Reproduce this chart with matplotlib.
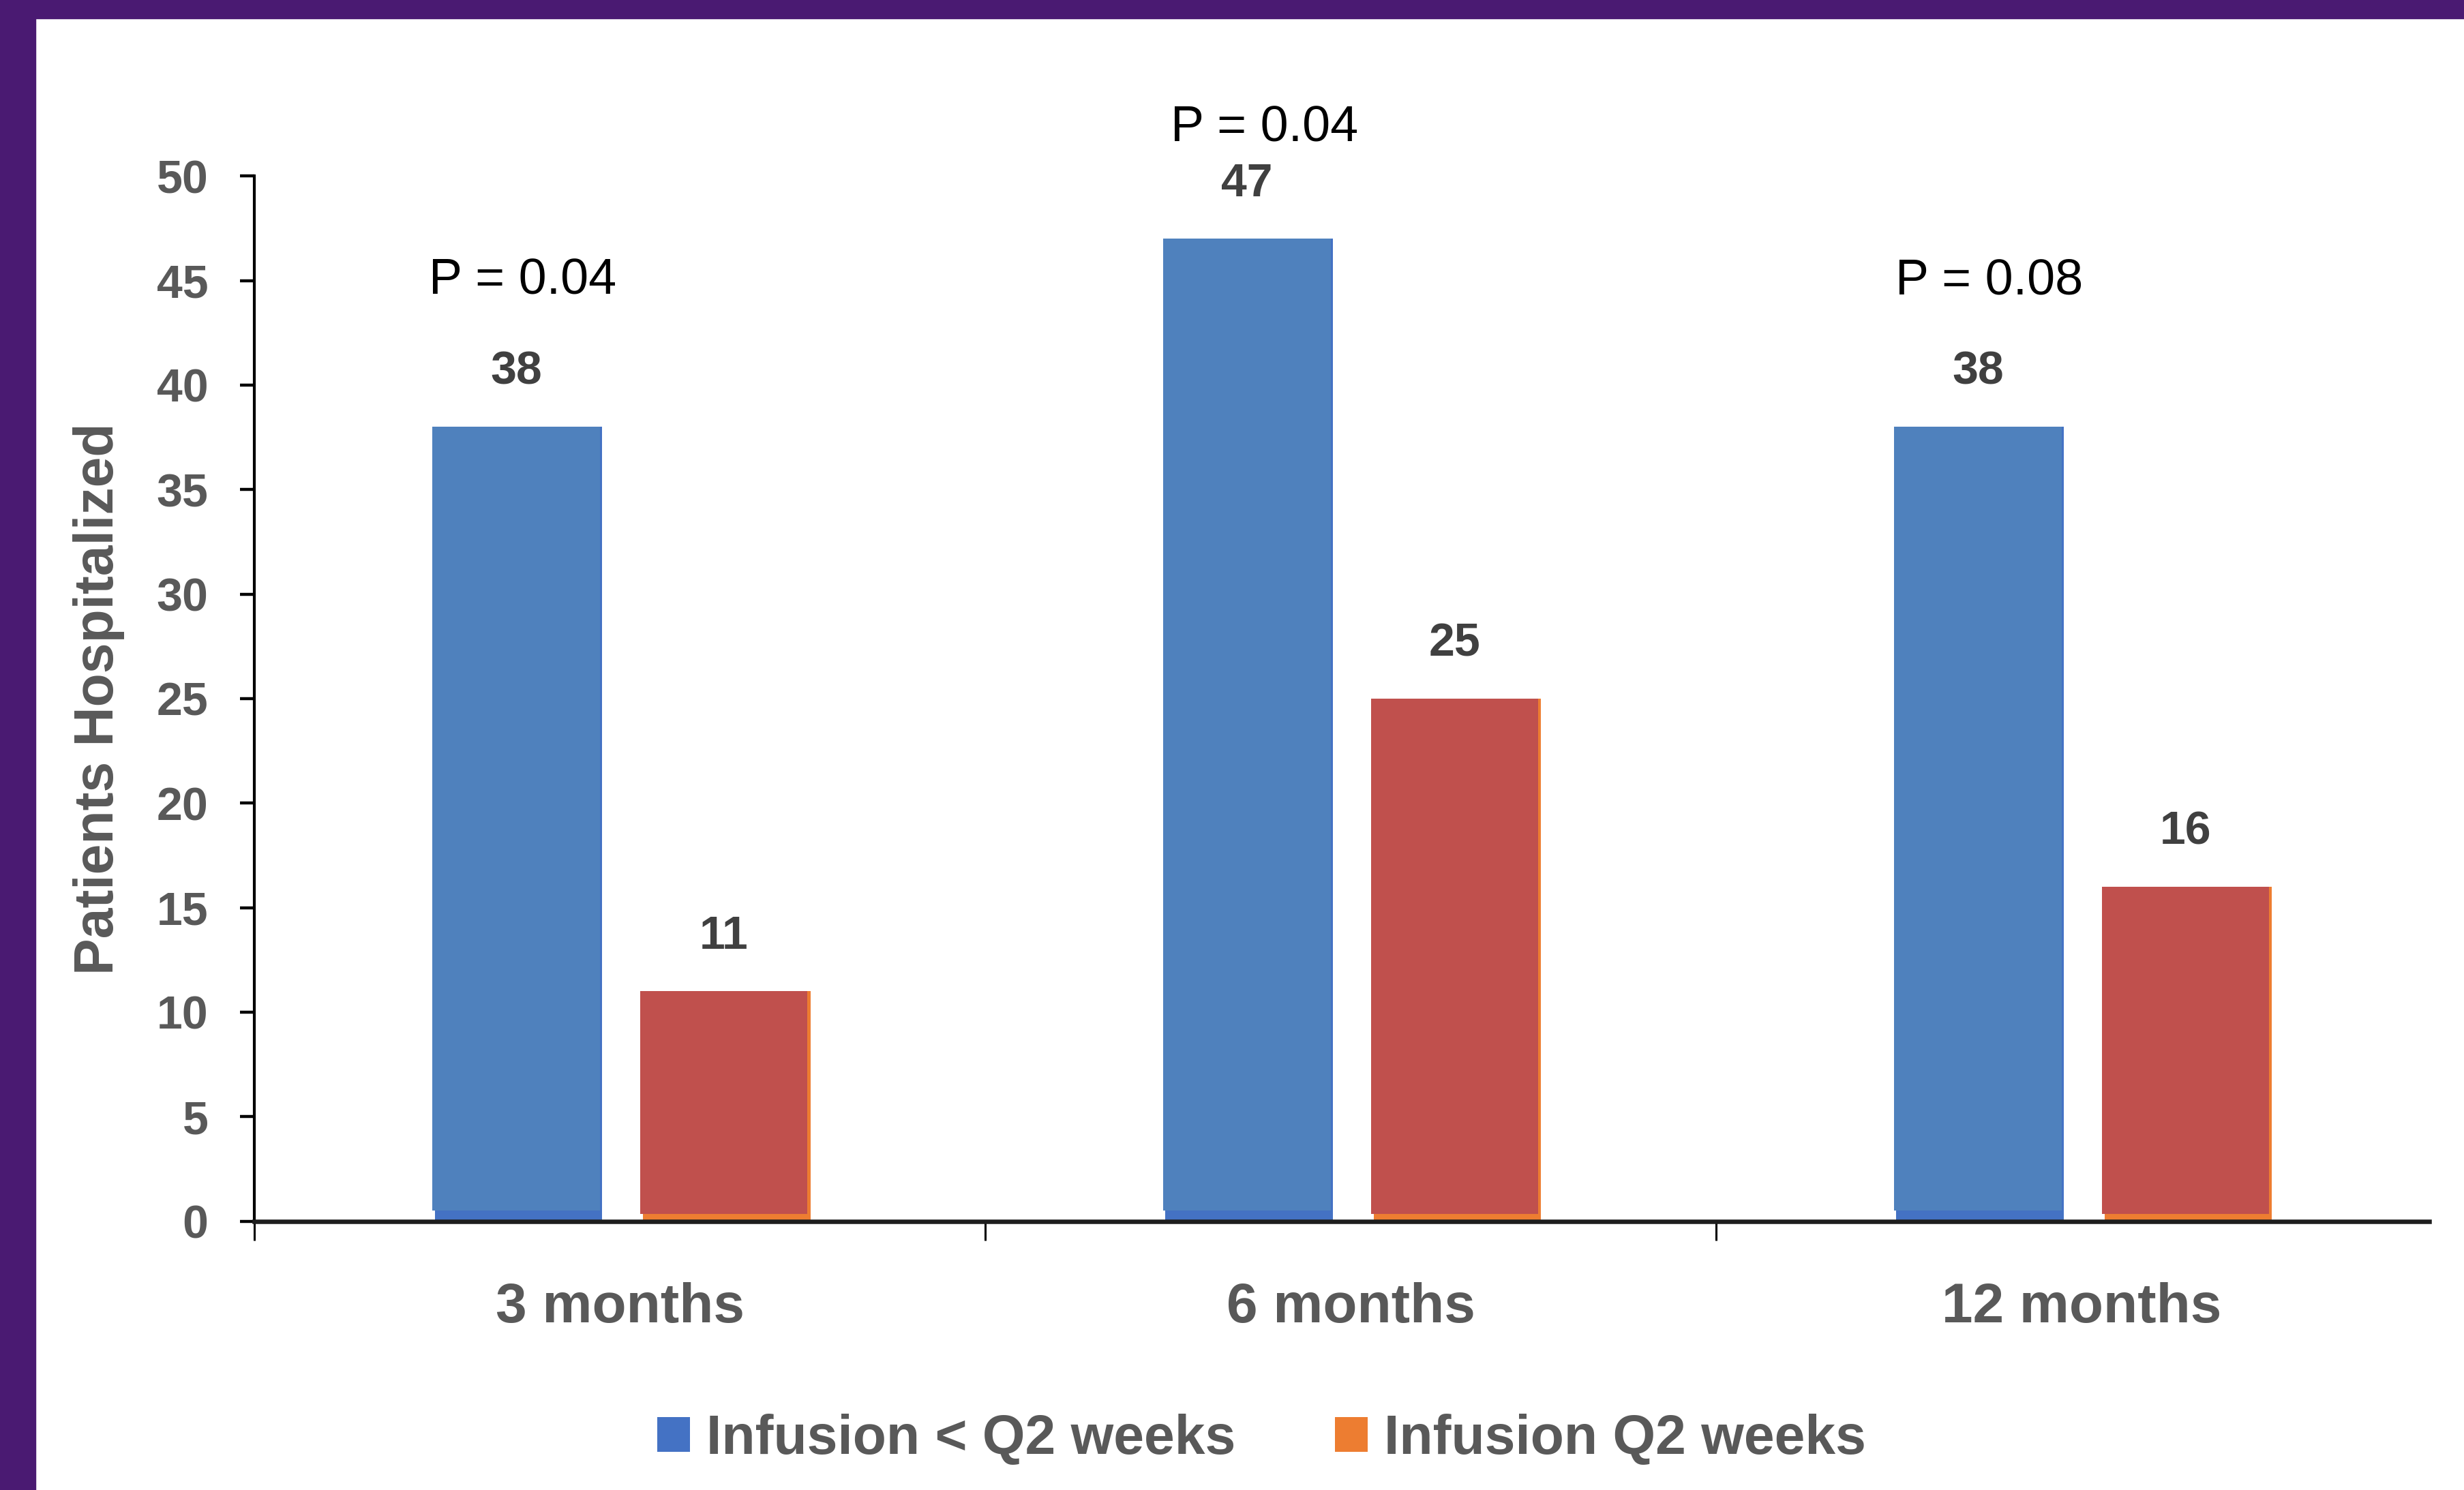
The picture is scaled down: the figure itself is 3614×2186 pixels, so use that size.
import numpy as np
import matplotlib
matplotlib.use('Agg')
import matplotlib.pyplot as plt
from matplotlib.patches import Rectangle

plt.rcParams['font.family'] = ['Liberation Sans', 'DejaVu Sans']

# data
categories = ['3 months', '6 months', '12 months']
series_labels = ['Infusion < Q2 weeks', 'Infusion Q2 weeks']
lt_q2 = [38, 47, 38]
q2 = [11, 25, 16]
p_labels = ['P = 0.04', 'P = 0.04', 'P = 0.08']
p_y = [45.0, 52.3, 45.0]
p_dx = [0.009, 0.024, 0.016]
yticks = [0, 5, 10, 15, 20, 25, 30, 35, 40, 45, 50]

gray = '#595959'
blue, red = '#4F81BD', '#C0504D'
blue_orig, orange_orig = '#4472C4', '#ED7D31'

fig = plt.figure(figsize=(36.14, 21.86), dpi=100)
fig.patch.set_facecolor('white')

# purple slide frame (left and top)
purple = '#4A1A72'
fig.add_artist(Rectangle((0, 0), 0.0144, 1, transform=fig.transFigure, color=purple, zorder=0))
fig.add_artist(Rectangle((0, 1 - 0.0124), 1, 0.0124, transform=fig.transFigure, color=purple, zorder=0))

ax = fig.add_axes([162 / 1568, 0.1804, (1546 - 162) / 1568, 0.8819 - 0.1804])

x = np.arange(len(categories))
w = 0.229
off = 0.142

# original office colours peek out under the pasted bars
h1 = ax.bar(x - off + 0.003, lt_q2, w, color=blue_orig, zorder=1)
h2 = ax.bar(x + off + 0.004, q2, w, color=orange_orig, zorder=1)
ax.bar(x - off, np.array(lt_q2) - 0.5, w, bottom=0.5, color=blue, zorder=1.5)
ax.bar(x + off, np.array(q2) - 0.35, w, bottom=0.35, color=red, zorder=1.5)

for xi, v in zip(x - off, lt_q2):
    ax.annotate(str(v), (xi, v), xytext=(0, 58), textcoords='offset points',
                ha='center', va='center', fontsize=49, fontweight='bold', color='#404040')
for xi, v in zip(x + off, q2):
    ax.annotate(str(v), (xi, v), xytext=(0, 58), textcoords='offset points',
                ha='center', va='center', fontsize=49, fontweight='bold', color='#404040')

for xi, lab, yy, dx in zip(x - off, p_labels, p_y, p_dx):
    ax.text(xi + dx, yy, lab, ha='center', va='center', fontsize=53,
            color='black', clip_on=False)

ax.set_xlim(-0.5, 2.476)
ax.set_ylim(0, 50)
ax.set_yticks(yticks)
ax.set_xticks(x)
ax.set_xticklabels(categories)
ax.set_xticks([-0.5, 0.5, 1.5], minor=True)

ax.tick_params(axis='y', direction='out', length=15, width=3.2, color='black',
               pad=34, labelsize=49, labelcolor=gray)
for t in ax.get_yticklabels():
    t.set_fontweight('bold')
ax.tick_params(axis='x', which='major', length=0, pad=64, labelsize=59, labelcolor=gray)
ax.tick_params(axis='x', which='minor', direction='out', length=20, width=2.2, color='black')
for t in ax.get_xticklabels():
    t.set_fontweight('bold')

for s in ['top', 'right']:
    ax.spines[s].set_visible(False)
ax.spines['left'].set_color('black')
ax.spines['left'].set_linewidth(3)
ax.spines['bottom'].set_color('#1e1e1e')
ax.spines['bottom'].set_linewidth(4.7)
ax.spines['bottom'].set_zorder(3)

fig.text(0.040, 0.531, 'Patients Hospitalized', rotation=90, ha='center', va='center',
         fontsize=58, fontweight='bold', color=gray)

fig.legend([h1, h2], series_labels, loc='center', bbox_to_anchor=(0.512, 0.034),
           ncol=2, frameon=False, handlelength=0.6, handleheight=0.6,
           handletextpad=0.3, columnspacing=1.8, labelcolor=gray,
           prop={'size': 58, 'weight': 'bold'})

fig.savefig('out.png', dpi=100)
